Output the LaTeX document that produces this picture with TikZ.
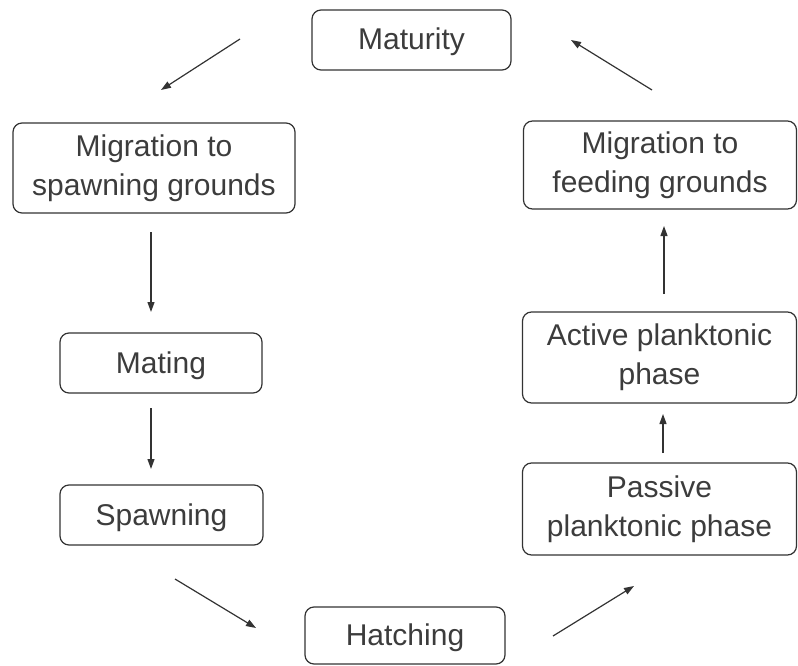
\documentclass[tikz,border=0pt]{standalone}
\usepackage{fontspec}
\setmainfont{Liberation Sans}
\usetikzlibrary{arrows.meta}
\definecolor{txt}{HTML}{3C3C3C}
\definecolor{edge}{HTML}{333333}
\begin{document}
\begin{tikzpicture}[x=1pt,y=-1pt,
  stagebox/.style={draw=edge, line width=1.2pt, rounded corners=9pt, inner sep=0pt,
    align=center, text=txt, font=\fontsize{30}{39}\selectfont},
  oneline/.style={text height=27pt, text depth=7pt},
  flowarrow/.style={draw=edge, line width=1.2pt, -{Triangle[length=10pt,width=7pt]}}]
\useasboundingbox (0,0) rectangle (798,666);
% boxes: centre, width, height from pixel measurements
\node[stagebox, oneline, minimum width=199pt, minimum height=60pt] (mat) at (411.5,40) {Maturity};
\node[stagebox, minimum width=282pt, minimum height=90pt] (migs) at (154,168) {Migration to\\spawning grounds};
\node[stagebox, minimum width=273pt, minimum height=88pt] (migf) at (660,165) {Migration to\\feeding grounds};
\node[stagebox, oneline, minimum width=202pt, minimum height=60pt] (mating) at (161,363) {Mating};
\node[stagebox, oneline, minimum width=203pt, minimum height=60pt] (spawn) at (161.5,515) {Spawning};
\node[stagebox, oneline, minimum width=200pt, minimum height=57pt] (hatch) at (405,635.5) {Hatching};
\node[stagebox, minimum width=274pt, minimum height=92pt] (pass) at (659.5,509) {Passive\\planktonic phase};
\node[stagebox, minimum width=274pt, minimum height=91pt] (act) at (659.5,357.5) {Active planktonic\\phase};
% arrow end points
\coordinate (a1s) at (240,39);  \coordinate (a1e) at (161,90);
\coordinate (a2s) at (151,232); \coordinate (a2e) at (151,312);
\coordinate (a3s) at (151,408); \coordinate (a3e) at (151,469);
\coordinate (a4s) at (175,579); \coordinate (a4e) at (256,628);
\coordinate (a5s) at (553,636); \coordinate (a5e) at (634,586);
\coordinate (a6s) at (663,453); \coordinate (a6e) at (663,414);
\coordinate (a7s) at (664,294); \coordinate (a7e) at (664,226);
\coordinate (a8s) at (652,90);  \coordinate (a8e) at (571,40);
\draw[flowarrow] (a1s) -- (a1e);
\draw[flowarrow] (a2s) -- (a2e);
\draw[flowarrow] (a3s) -- (a3e);
\draw[flowarrow] (a4s) -- (a4e);
\draw[flowarrow] (a5s) -- (a5e);
\draw[flowarrow] (a6s) -- (a6e);
\draw[flowarrow] (a7s) -- (a7e);
\draw[flowarrow] (a8s) -- (a8e);
\end{tikzpicture}
\end{document}
